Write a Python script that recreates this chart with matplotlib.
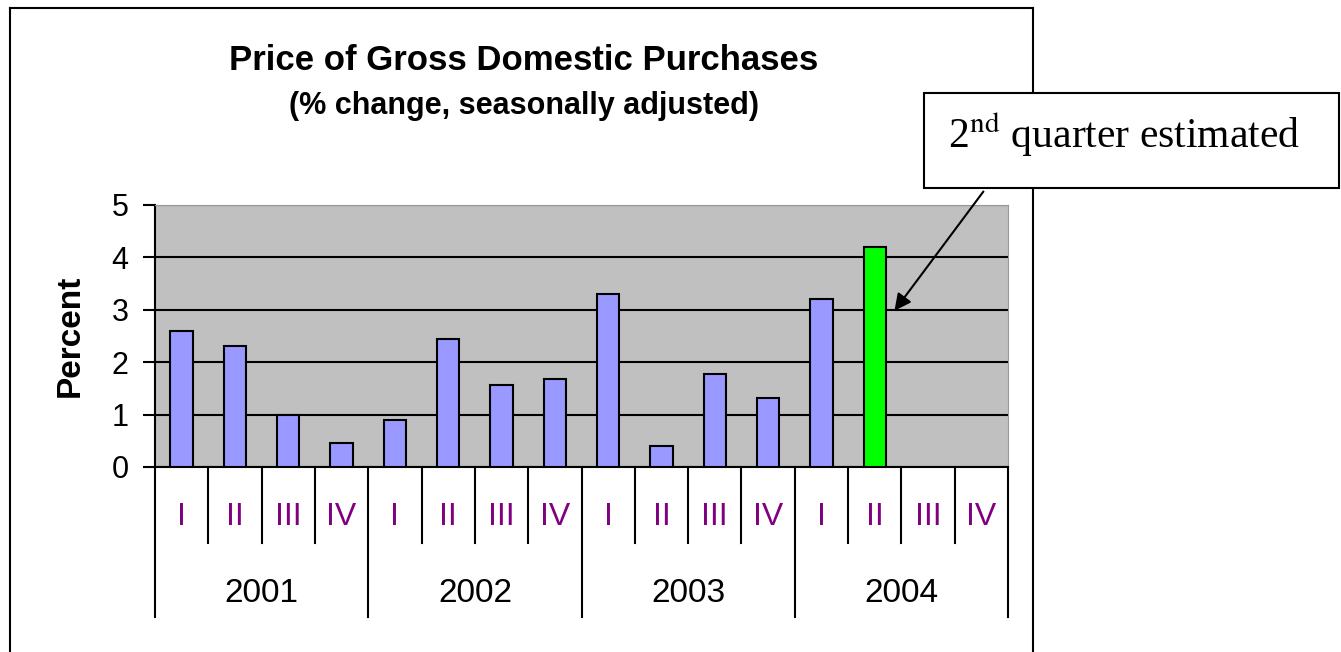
import matplotlib.pyplot as plt
import matplotlib.patches as patches
import numpy as np

# dane
years = ['2001', '2002', '2003', '2004']
quarters = ['I', 'II', 'III', 'IV']
values = [2.6, 2.3, 1.0, 0.45,
          0.9, 2.45, 1.57, 1.67,
          3.3, 0.4, 1.78, 1.31,
          3.2, 4.2, np.nan, np.nan]
estimated = 13  # 2004 II

plt.rcParams['font.family'] = ['Liberation Sans', 'DejaVu Sans']
plt.rcParams['mathtext.fontset'] = 'stix'

fig = plt.figure(figsize=(13.41, 6.52), dpi=100)
ax = fig.add_axes([155/1341, 1 - 467/652, 853/1341, 262/652])

x = np.arange(len(values))
colors = ['#9999FF'] * len(values)
colors[estimated] = '#00FF00'
ax.bar(x, values, width=0.42, color=colors, edgecolor='black', linewidth=1.5, zorder=3)

ax.set_facecolor('#C0C0C0')
ax.set_xlim(-0.5, len(values) - 0.5)
ax.set_ylim(0, 5)
ax.set_yticks(range(6))
ax.tick_params(axis='y', labelsize=22, length=9, width=1.5, pad=10)
ax.set_xticks([])
ax.yaxis.grid(True, color='black', linewidth=1.5, zorder=1)
ax.set_axisbelow(True)
for s in ['top', 'right']:
    ax.spines[s].set_color('#999999')
ax.spines['left'].set_linewidth(1.5)
ax.spines['bottom'].set_linewidth(1.5)
ax.text(-85/853, 0.5, 'Percent', transform=ax.transAxes, rotation=90,
        ha='center', va='center', fontsize=24, fontweight='bold')

# oś kategorii (kwartały i lata)
tr = ax.get_xaxis_transform()
q_depth = -(543 - 467) / 262
y_depth = -(617 - 467) / 262
for k in range(len(values) + 1):
    depth = y_depth if k % 4 == 0 else q_depth
    ax.plot([k - 0.5, k - 0.5], [0, depth], transform=tr, color='black',
            linewidth=1.5, clip_on=False)
for i in range(len(values)):
    ax.text(i, -(517 - 467) / 262, quarters[i % 4], transform=tr, ha='center',
            va='center', fontsize=23, color='#800080')
for j, yr in enumerate(years):
    ax.text(j * 4 + 1.5, -(593 - 467) / 262, yr, transform=tr, ha='center',
            va='center', fontsize=24)

# tytuł
fig.text(524 / 1341, 1 - 60 / 652, 'Price of Gross Domestic Purchases',
         ha='center', va='center', fontsize=25, fontweight='bold')
fig.text(524 / 1341, 1 - 106 / 652, '(% change, seasonally adjusted)',
         ha='center', va='center', fontsize=22, fontweight='bold')

# ramka wykresu
fig.add_artist(plt.Line2D([10/1341, 10/1341], [0, 1 - 8/652], color='black', linewidth=1.5))
fig.add_artist(plt.Line2D([10/1341, 1033/1341], [1 - 8/652, 1 - 8/652], color='black', linewidth=1.5))
fig.add_artist(plt.Line2D([1033/1341, 1033/1341], [0, 1 - 8/652], color='black', linewidth=1.5))

# strzałka i opis
ax.annotate('', xy=(13.34, 2.94), xytext=(15.07, 5.3),
            arrowprops=dict(arrowstyle='-|>', color='black', linewidth=1.5,
                            mutation_scale=25), annotation_clip=False)
box = patches.Rectangle((924/1341, 1 - 188/652), 415/1341, 95/652,
                        transform=fig.transFigure, facecolor='white',
                        edgecolor='black', linewidth=1.5, zorder=5)
fig.add_artist(box)
fig.text(948/1341, 1 - 135/652, r'2$^{\rm nd}$ quarter estimated',
         ha='left', va='center', fontsize=30, family='Liberation Serif', zorder=6)

fig.savefig('out.png', dpi=100)
